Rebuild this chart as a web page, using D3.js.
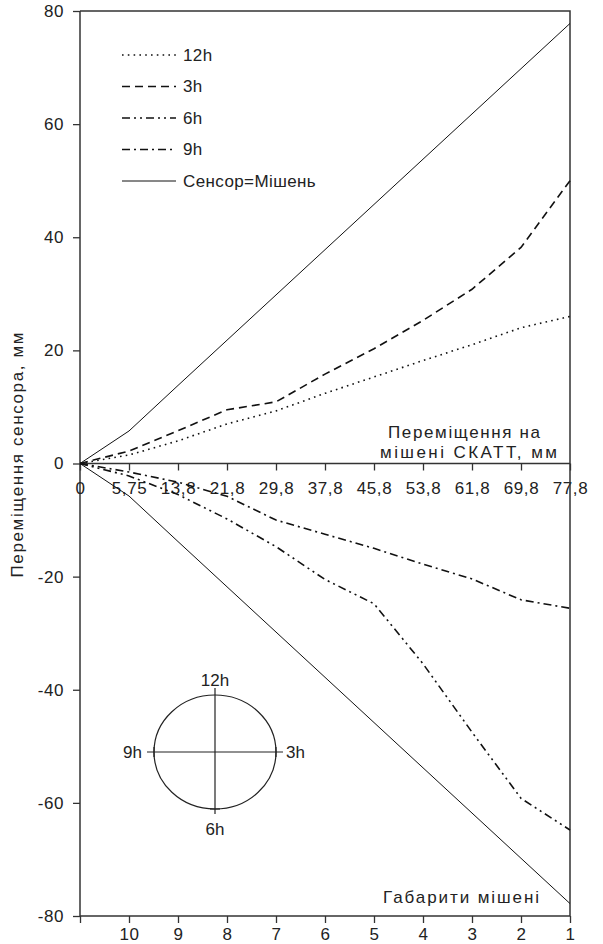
<!DOCTYPE html>
<html>
<head>
<meta charset="utf-8">
<script src="https://cdn.jsdelivr.net/npm/d3@7"></script>
<style>
  body { margin: 0; background: #fff; }
  svg text { font-family: "Liberation Sans", Arial, sans-serif; font-size: 17px; fill: #222; }
</style>
</head>
<body>
<div id="chart"></div>
<script>
"use strict"

// target displacement (top axis) and target size (bottom axis)
var topLabels = ['0', '5,75', '13,8', '21,8', '29,8', '37,8', '45,8', '53,8', '61,8', '69,8', '77,8'];
var bottomLabels = ['', '10', '9', '8', '7', '6', '5', '4', '3', '2', '1'];
var yTicks = [-80, -60, -40, -20, 0, 20, 40, 60, 80];

// sensor displacement, mm
var s12h = [0, 1.5, 4, 7, 9.3, 12.4, 15.3, 18.2, 21, 24, 26];
var s3h = [0, 2.2, 5.8, 9.5, 10.9, 15.8, 20.3, 25.3, 30.8, 38.2, 50];
var s6h = [0, -2.2, -5.5, -9.8, -14.7, -20.5, -24.8, -35.4, -47.5, -59.2, -64.8];
var s9h = [0, -1.5, -3.3, -5.8, -10, -12.5, -15, -17.8, -20.4, -24.1, -25.6];
var sensorUp = [0, 5.75, 13.8, 21.8, 29.8, 37.8, 45.8, 53.8, 61.8, 69.8, 77.8];
var sensorDown = [0, -5.75, -13.8, -21.8, -29.8, -37.8, -45.8, -53.8, -61.8, -69.8, -77.8];

var series = [
  { name: '12h', values: s12h, dash: '1.6,4.2', width: 1.6 },
  { name: '3h', values: s3h, dash: '8,5', width: 1.6 },
  { name: '6h', values: s6h, dash: '8,4,2,4,2,4', width: 1.6 },
  { name: '9h', values: s9h, dash: '8,4,2,4', width: 1.6 },
  { name: 'Сенсор=Мішень', values: sensorUp, dash: null, width: 1 },
  { name: null, values: sensorDown, dash: null, width: 1 }
];

var W = 603, H = 944;
var mLeft = 80, mRight = 570, mTop = 11, mBottom = 916;

var svg = d3.select('#chart').append('svg')
  .attr('width', W)
  .attr('height', H);

var x = d3.scalePoint()
  .domain(d3.range(topLabels.length))
  .range([mLeft, mRight]);

var y = d3.scaleLinear()
  .domain([-80, 80])
  .range([mBottom, mTop]);

// y axis, plain hyphen for negatives like the original
var yAxis = svg.append('g')
  .attr('transform', 'translate(' + mLeft + ',0)')
  .call(d3.axisLeft(y).tickValues(yTicks).tickSize(7).tickPadding(9).tickFormat(d => String(d)));

// middle x axis (target displacement)
var xAxisMid = svg.append('g')
  .attr('transform', 'translate(0,' + y(0) + ')')
  .call(d3.axisBottom(x).tickSize(7).tickPadding(11).tickFormat(i => topLabels[i]));

// bottom axis (target size)
var xAxisBot = svg.append('g')
  .attr('transform', 'translate(0,' + mBottom + ')')
  .call(d3.axisBottom(x).tickSize(7).tickPadding(5).tickFormat(i => bottomLabels[i]));

svg.selectAll('.domain').attr('stroke', '#333').attr('stroke-width', 1.5);
svg.selectAll('.tick line').attr('stroke', '#333').attr('stroke-width', 1.3);
svg.selectAll('.tick text')
  .style('font-size', '17px')
  .style('letter-spacing', '0.6px')
  .attr('fill', '#222');
xAxisMid.select('.domain').attr('d', 'M' + mLeft + ',0H' + mRight);
xAxisBot.select('.domain').attr('d', 'M' + mLeft + ',0H' + mRight);
yAxis.select('.domain').attr('d', 'M0,' + mTop + 'V' + mBottom);

// frame top and right
svg.append('path')
  .attr('d', 'M' + mLeft + ',' + mTop + 'H' + mRight + 'V' + mBottom)
  .attr('fill', 'none')
  .attr('stroke', '#333')
  .attr('stroke-width', 1.5);

// lines
var line = d3.line()
  .x((d, i) => x(i))
  .y(d => y(d));

svg.selectAll('.series')
  .data(series)
  .enter()
  .append('path')
  .attr('class', 'series')
  .attr('d', d => line(d.values))
  .attr('fill', 'none')
  .attr('stroke', '#111')
  .attr('stroke-width', d => d.width)
  .attr('stroke-dasharray', d => d.dash);

// legend
var legend = svg.append('g')
  .attr('transform', 'translate(122,55)');

var legendItems = legend.selectAll('g')
  .data(series.filter(d => d.name))
  .enter()
  .append('g')
  .attr('transform', (d, i) => 'translate(0,' + (i * 31.5) + ')');

legendItems.append('line')
  .attr('x1', 0)
  .attr('x2', 54)
  .attr('stroke', '#111')
  .attr('stroke-width', d => d.width)
  .attr('stroke-dasharray', d => d.dash);

legendItems.append('text')
  .attr('x', 61)
  .attr('dy', '0.35em')
  .style('letter-spacing', '0.4px')
  .text(d => d.name);

// axis titles
svg.append('text')
  .attr('transform', 'translate(23,455) rotate(-90)')
  .attr('text-anchor', 'middle')
  .attr('textLength', 245)
  .attr('lengthAdjust', 'spacing')
  .text('Переміщення сенсора, мм');

svg.append('text')
  .attr('x', 388)
  .attr('y', 438)
  .attr('textLength', 152)
  .attr('lengthAdjust', 'spacing')
  .text('Переміщення на');

svg.append('text')
  .attr('x', 380)
  .attr('y', 458)
  .attr('textLength', 177)
  .attr('lengthAdjust', 'spacing')
  .text('мішені СКАТТ, мм');

svg.append('text')
  .attr('x', 383)
  .attr('y', 903)
  .attr('textLength', 156)
  .attr('lengthAdjust', 'spacing')
  .text('Габарити мішені');

// clock face sketch
var cx = 215, cy = 752, rx = 61, ry = 57;
var clock = svg.append('g')
  .attr('stroke', '#222')
  .attr('fill', 'none')
  .attr('stroke-width', 1.2);

clock.append('ellipse')
  .attr('cx', cx).attr('cy', cy).attr('rx', rx).attr('ry', ry);
clock.append('line')
  .attr('x1', cx - rx - 7).attr('x2', cx + rx + 7).attr('y1', cy).attr('y2', cy);
clock.append('line')
  .attr('x1', cx).attr('x2', cx).attr('y1', cy - ry - 7).attr('y2', cy + ry + 5);
clock.append('line')
  .attr('x1', cx - rx).attr('x2', cx - rx).attr('y1', cy - 5).attr('y2', cy + 5);
clock.append('line')
  .attr('x1', cx + rx).attr('x2', cx + rx).attr('y1', cy - 5).attr('y2', cy + 5);
clock.append('line')
  .attr('x1', cx - 5).attr('x2', cx + 5).attr('y1', cy + ry).attr('y2', cy + ry);

svg.append('text').attr('x', cx).attr('y', cy - ry - 9).attr('text-anchor', 'middle').text('12h');
svg.append('text').attr('x', cx).attr('y', cy + ry + 26).attr('text-anchor', 'middle').text('6h');
svg.append('text').attr('x', cx - rx - 12).attr('y', cy).attr('dy', '0.35em').attr('text-anchor', 'end').text('9h');
svg.append('text').attr('x', cx + rx + 10).attr('y', cy).attr('dy', '0.35em').text('3h');
</script>
</body>
</html>
